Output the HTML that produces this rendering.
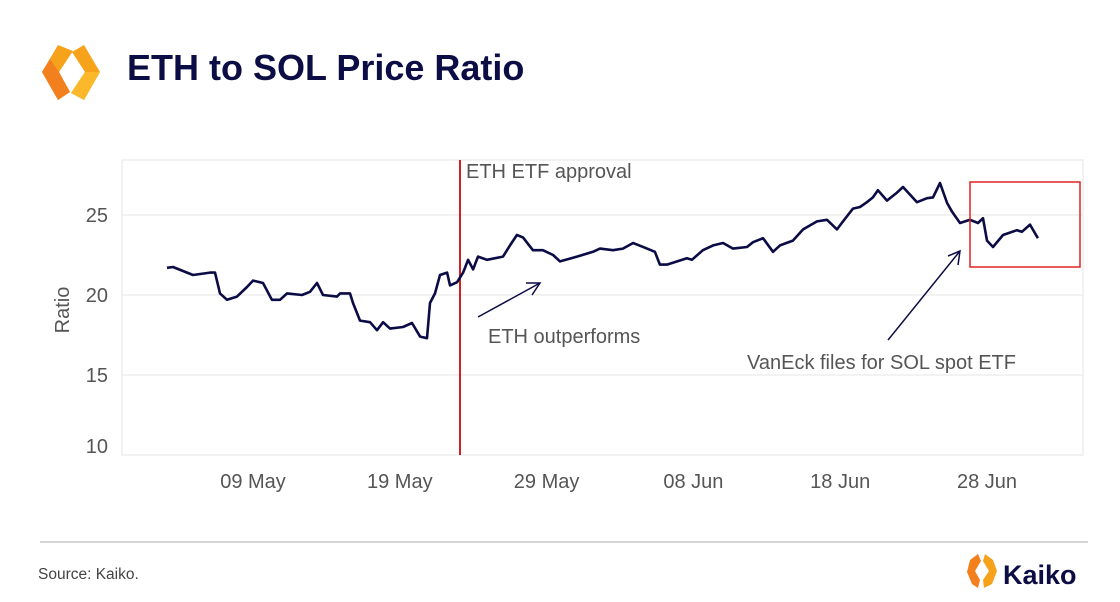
<!DOCTYPE html>
<html><head><meta charset="utf-8"><style>
body{margin:0;background:#fff;font-family:"Liberation Sans",sans-serif}
svg{display:block}
</style></head><body>
<svg width="1120" height="602" viewBox="0 0 1120 602">
<g>
<polygon points="58,45 73,51 59,72 70,92 58,100 42,72" fill="#f7a21b"/>
<polygon points="50,59 59,72 70,92 58,100 42,72" fill="#f2801f"/>
<polygon points="84,45 100,72 84,100 71,93 85,72 72,52" fill="#f7a21b"/>
<polygon points="100,72 84,100 71,93 85,72" fill="#fbb82a"/>
</g>
<text x="127" y="80" font-size="36" font-weight="bold" fill="#0d0d45">ETH to SOL Price Ratio</text>
<rect x="122" y="160" width="961" height="295" fill="none" stroke="#eeeeee" stroke-width="1.5"/>
<g id="grid"></g>
<g id="axes"></g>
<text transform="translate(69,310) rotate(-90)" text-anchor="middle" font-size="20" fill="#555">Ratio</text>
<line x1="460" y1="160" x2="460" y2="455" stroke="#d21f1f" stroke-width="2"/>
<text x="466" y="178" font-size="20" fill="#555">ETH ETF approval</text>
<path id="series" fill="none" stroke="#0b0b45" stroke-width="2.6" stroke-linejoin="round"/>
<rect x="970" y="182" width="110" height="85" fill="none" stroke="#e02424" stroke-width="1.5"/>
<g stroke="#0b0b45" stroke-width="1.5" fill="none">
<line x1="478" y1="317" x2="540" y2="283"/><polyline points="526,283 540,283 532,295"/></g>
<text x="488" y="343" font-size="20" fill="#555">ETH outperforms</text>
<g stroke="#0b0b45" stroke-width="1.5" fill="none">
<line x1="888" y1="340" x2="960" y2="251"/><polyline points="948,256 960,251 958,265"/></g>
<text x="747" y="369" font-size="20" fill="#555">VanEck files for SOL spot ETF</text>
<line x1="40" y1="542" x2="1088" y2="542" stroke="#c8c8c8" stroke-width="1.5"/>
<text x="38" y="579" font-size="15.5" fill="#444">Source: Kaiko.</text>
<g>
<polygon points="978,554 970,560 967,572 972,584 978,588 980,580 975,571 981,561" fill="#f2801f"/>
<polygon points="985,554 993,560 997,571 992,584 984,588 983,580 989,571 983,561" fill="#f7a21b"/>
<text x="1003" y="584" font-size="27" font-weight="bold" fill="#0d0d45">Kaiko</text>
</g>
</svg>
<script>
const yTicks=[25,20,15,10];
const xTickDays=[8,18,28,38,48,58];
const xTickLabels=["09 May","19 May","29 May","08 Jun","18 Jun","28 Jun"];
const days=[2.14,2.55,3.91,5.07,5.41,5.75,6.23,6.91,7.59,8.0,8.68,9.29,9.84,10.32,11.34,11.88,12.36,12.77,13.72,13.93,14.61,14.81,15.29,15.97,16.45,16.86,17.33,18.22,18.83,19.38,19.85,20.06,20.4,20.74,21.22,21.42,21.9,22.31,22.65,22.99,23.33,23.94,25.03,25.51,25.98,26.39,27.07,27.75,28.44,28.91,30.07,31.16,31.64,32.52,33.2,33.89,34.84,35.38,35.72,36.2,37.56,37.9,38.65,39.34,40.02,40.7,41.65,42.06,42.74,43.42,43.9,44.78,45.47,46.42,47.1,47.78,48.19,48.87,49.35,49.82,50.23,50.57,51.19,51.87,52.28,53.23,53.91,54.32,54.8,55.28,55.62,56.16,56.84,57.39,57.73,58.0,58.41,59.09,60.04,60.38,60.93,61.47];
const ratios=[21.7,21.75,21.25,21.4,21.4,20.1,19.7,19.9,20.5,20.9,20.75,19.7,19.7,20.1,20.0,20.2,20.75,20.0,19.9,20.1,20.1,19.5,18.4,18.3,17.8,18.3,17.9,18.0,18.25,17.4,17.3,19.5,20.1,21.25,21.4,20.6,20.8,21.4,22.2,21.6,22.4,22.2,22.4,23.1,23.75,23.6,22.8,22.8,22.5,22.1,22.4,22.7,22.9,22.8,22.9,23.25,22.9,22.7,21.9,21.9,22.3,22.2,22.8,23.1,23.25,22.9,23.0,23.3,23.55,22.7,23.1,23.4,24.1,24.6,24.7,24.1,24.6,25.4,25.5,25.8,26.1,26.55,25.9,26.4,26.75,25.8,26.05,26.1,27.0,25.75,25.2,24.5,24.7,24.5,24.8,23.4,23.0,23.75,24.05,23.95,24.4,23.55,23.55];
const xS=d=>253+(d-8)*14.68;
const yS=v=>215+(25-v)*16;
const NS="http://www.w3.org/2000/svg";
const grid=document.getElementById('grid'),axes=document.getElementById('axes');
yTicks.forEach(t=>{
 const y=Math.min(yS(t),446);
 if(t>10){const l=document.createElementNS(NS,'line');
 l.setAttribute('x1',122);l.setAttribute('x2',1083);l.setAttribute('y1',yS(t));l.setAttribute('y2',yS(t));
 l.setAttribute('stroke','#eeeeee');l.setAttribute('stroke-width','1.5');
 
 
 grid.appendChild(l);}
 const tx=document.createElementNS(NS,'text');
 tx.setAttribute('x',108);tx.setAttribute('y',y+7);tx.setAttribute('text-anchor','end');
 tx.setAttribute('font-size','20');tx.setAttribute('fill','#555');tx.textContent=t;
 
 
 axes.appendChild(tx);
});
xTickDays.forEach((d,i)=>{
 const tx=document.createElementNS(NS,'text');
 tx.setAttribute('x',xS(d));tx.setAttribute('y',488);tx.setAttribute('text-anchor','middle');
 tx.setAttribute('font-size','20');tx.setAttribute('fill','#555');tx.textContent=xTickLabels[i];
 
 
 axes.appendChild(tx);
});
document.getElementById('series').setAttribute('d',days.map((d,i)=>(i?'L':'M')+xS(d).toFixed(1)+','+yS(ratios[i]).toFixed(1)).join(''));
</script>
</body></html>
